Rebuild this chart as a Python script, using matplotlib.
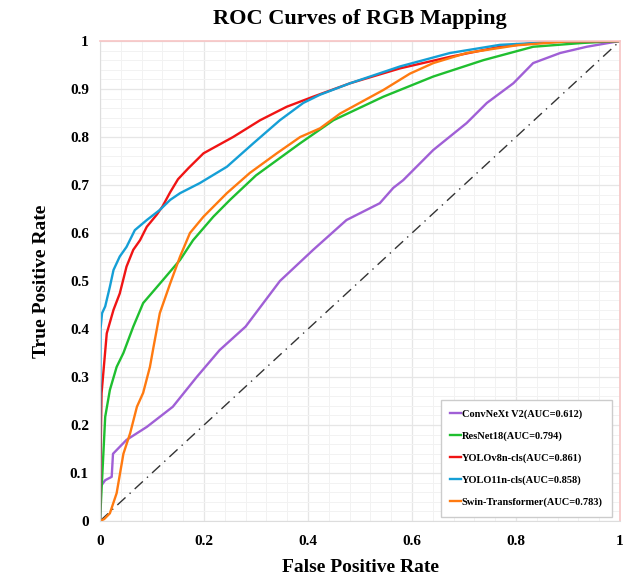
import matplotlib.pyplot as plt
from matplotlib.ticker import MultipleLocator

plt.rcParams["font.family"] = ["Liberation Serif", "DejaVu Serif"]
plt.rcParams["font.weight"] = "bold"

# ROC points (fpr, tpr)
convnext_fpr = [0.0, 0.0, 0.01, 0.0225, 0.025, 0.051, 0.09, 0.14, 0.186, 0.23, 0.28,
                0.346, 0.41, 0.474, 0.538, 0.564, 0.583, 0.641, 0.705, 0.744, 0.795,
                0.833, 0.885, 0.936, 1.0]
convnext_tpr = [0.0, 0.07, 0.085, 0.092, 0.14, 0.169, 0.196, 0.238, 0.30, 0.356, 0.405,
                0.50, 0.565, 0.627, 0.662, 0.694, 0.71, 0.773, 0.829, 0.871, 0.912,
                0.954, 0.975, 0.988, 1.0]

resnet_fpr = [0.0, 0.003, 0.01, 0.019, 0.032, 0.045, 0.064, 0.083, 0.121, 0.154, 0.179,
              0.218, 0.25, 0.3, 0.385, 0.449, 0.545, 0.641, 0.737, 0.833, 0.929, 1.0]
resnet_tpr = [0.0, 0.065, 0.217, 0.273, 0.321, 0.35, 0.405, 0.454, 0.502, 0.544, 0.585,
              0.634, 0.669, 0.72, 0.787, 0.835, 0.884, 0.926, 0.96, 0.988, 0.996, 1.0]

yolov8_fpr = [0.0, 0.002, 0.003, 0.013, 0.026, 0.038, 0.051, 0.064, 0.077, 0.09, 0.109,
              0.12, 0.135, 0.15, 0.17, 0.199, 0.256, 0.308, 0.359, 0.41, 0.481, 0.577,
              0.673, 0.769, 0.865, 1.0]
yolov8_tpr = [0.0, 0.2, 0.266, 0.391, 0.44, 0.474, 0.53, 0.565, 0.585, 0.613, 0.638,
              0.655, 0.685, 0.712, 0.735, 0.766, 0.80, 0.835, 0.863, 0.884, 0.912, 0.943,
              0.967, 0.988, 0.999, 1.0]

yolo11_fpr = [0.0, 0.001, 0.004, 0.01, 0.019, 0.026, 0.038, 0.051, 0.067, 0.09, 0.115,
              0.135, 0.154, 0.192, 0.244, 0.295, 0.346, 0.391, 0.423, 0.481, 0.577,
              0.673, 0.769, 0.897, 1.0]
yolo11_tpr = [0.0, 0.40, 0.433, 0.447, 0.488, 0.523, 0.551, 0.571, 0.606, 0.627, 0.648,
              0.669, 0.683, 0.704, 0.738, 0.787, 0.835, 0.871, 0.888, 0.912, 0.947,
              0.975, 0.992, 0.999, 1.0]

swin_fpr = [0.0, 0.008, 0.019, 0.032, 0.045, 0.058, 0.071, 0.083, 0.096, 0.103, 0.115,
            0.135, 0.154, 0.173, 0.199, 0.244, 0.288, 0.34, 0.385, 0.423, 0.462, 0.545,
            0.596, 0.641, 0.705, 0.801, 0.897, 1.0]
swin_tpr = [0.0, 0.004, 0.016, 0.058, 0.14, 0.183, 0.238, 0.267, 0.321, 0.363, 0.433,
            0.495, 0.551, 0.60, 0.634, 0.683, 0.725, 0.766, 0.80, 0.818, 0.849, 0.898,
            0.932, 0.954, 0.975, 0.991, 0.999, 1.0]

labels = ["ConvNeXt V2(AUC=0.612)", "ResNet18(AUC=0.794)", "YOLOv8n-cls(AUC=0.861)",
          "YOLO11n-cls(AUC=0.858)", "Swin-Transformer(AUC=0.783)"]
colors = ["#a05fd6", "#1fbf2f", "#f01414", "#159fd6", "#ff7a10"]
curves = [(convnext_fpr, convnext_tpr), (resnet_fpr, resnet_tpr), (yolov8_fpr, yolov8_tpr),
          (yolo11_fpr, yolo11_tpr), (swin_fpr, swin_tpr)]

fig = plt.figure(figsize=(6.41, 5.78), dpi=100)
ax = fig.add_axes([100 / 641, 1 - 521 / 578, 520 / 641, 480 / 578])

ax.plot([0, 1], [0, 1], color="#333333", linestyle=(0, (8, 4, 1, 4)), linewidth=1.0)
for (fpr, tpr), lab, col in zip(curves, labels, colors):
    ax.plot(fpr, tpr, color=col, linewidth=1.7, label=lab)

ax.set_xlim(0, 1)
ax.set_ylim(0, 1)
ax.xaxis.set_major_locator(MultipleLocator(0.2))
ax.xaxis.set_minor_locator(MultipleLocator(0.04))
ax.yaxis.set_major_locator(MultipleLocator(0.1))
ax.yaxis.set_minor_locator(MultipleLocator(0.02))
ax.xaxis.set_major_formatter(plt.FuncFormatter(lambda v, p: f"{v:g}"))
ax.yaxis.set_major_formatter(plt.FuncFormatter(lambda v, p: f"{v:g}"))
ax.grid(which="major", color="#e6e6e6", linewidth=0.9)
ax.grid(which="minor", color="#f2f2f2", linewidth=0.7)
ax.tick_params(which="both", length=0, labelsize=11, pad=8)
ax.tick_params(axis="x", pad=10)
for lab in ax.get_xticklabels() + ax.get_yticklabels():
    lab.set_fontweight("bold")

for side in ["left", "bottom"]:
    ax.spines[side].set_color("#dddddd")
for side in ["top", "right"]:
    ax.spines[side].set_color("#f7c4c4")
    ax.spines[side].set_linewidth(1.2)

ax.set_title("ROC Curves of RGB Mapping", fontsize=16, fontweight="bold", pad=12)
ax.set_xlabel("False Positive Rate", fontsize=14, fontweight="bold", labelpad=8)
ax.set_ylabel("True Positive Rate", fontsize=14, fontweight="bold", labelpad=14)

leg = ax.legend(loc="lower right", fontsize=7.5, handlelength=1.0, handletextpad=0.1,
                labelspacing=1.2, borderpad=0.9, fancybox=False, framealpha=1,
                edgecolor="#cccccc", bbox_to_anchor=(0.995, -0.002))
for t in leg.get_texts():
    t.set_fontweight("bold")

fig.savefig("out.png", dpi=100)
